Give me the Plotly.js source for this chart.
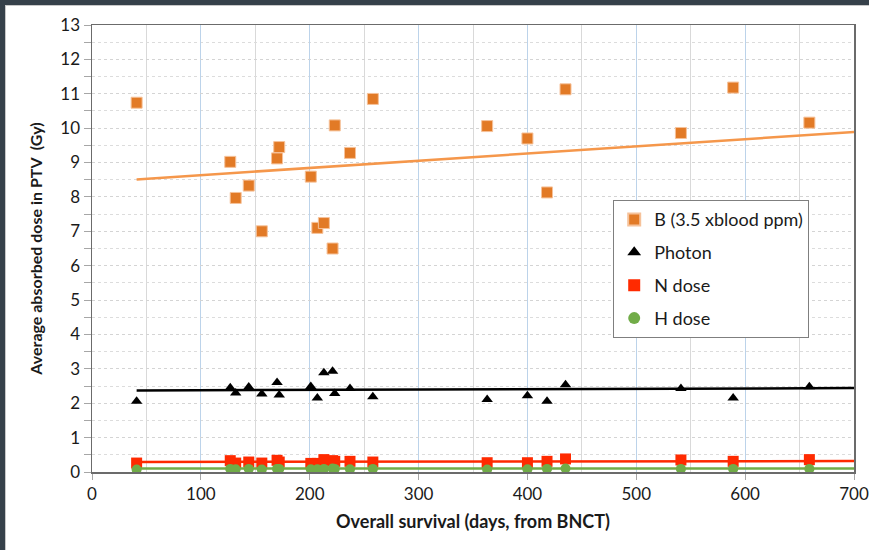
<!DOCTYPE html>
<html>
<head>
<meta charset="utf-8">
<script src="https://cdn.plot.ly/plotly-3.0.1.min.js"></script>
<style>
  html, body { margin: 0; padding: 0; background: #36414a; width: 869px; height: 550px; overflow: hidden; }
  #chart { position: absolute; left: 5px; top: 5px; width: 864px; height: 545px; background: #fff; border-top: 1px solid #c8c8c8; border-left: 1px solid #c8c8c8; box-sizing: border-box; }
</style>
</head>
<body>
<div id="chart"></div>
<script>
// Overall survival (days) per patient
const survivalDays = [41, 127, 132, 144, 156, 170, 172, 201, 207, 213, 221, 223, 237, 258, 363, 400, 418, 435, 541, 589, 659];
// Average absorbed dose in PTV (Gy)
const bDose      = [10.74, 9.02, 7.97, 8.33, 7.00, 9.12, 9.45, 8.59, 7.10, 7.24, 6.50, 10.08, 9.28, 10.85, 10.06, 9.70, 8.13, 11.13, 9.86, 11.18, 10.16];
const photonDose = [2.06, 2.45, 2.30, 2.47, 2.27, 2.60, 2.24, 2.49, 2.15, 2.89, 2.93, 2.28, 2.43, 2.19, 2.11, 2.22, 2.06, 2.54, 2.43, 2.15, 2.48];
const nDose      = [0.26, 0.33, 0.26, 0.29, 0.26, 0.34, 0.29, 0.25, 0.25, 0.36, 0.33, 0.31, 0.31, 0.29, 0.27, 0.27, 0.31, 0.38, 0.35, 0.31, 0.36];
const hDose      = [0.07, 0.09, 0.08, 0.09, 0.07, 0.09, 0.09, 0.08, 0.08, 0.09, 0.10, 0.09, 0.08, 0.09, 0.07, 0.08, 0.09, 0.10, 0.09, 0.09, 0.09];
// Linear trend lines
const trendX      = [41, 700];
const trendB      = [8.51, 9.89];
const trendPhoton = [2.37, 2.44];
const trendN      = [0.29, 0.32];
const trendH      = [0.10, 0.10];

const seriesNames = ['B (3.5 xblood ppm)', 'Photon', 'N dose', 'H dose'];

const FONT = 'Lato, "Open Sans", sans-serif';

const traces = [
  { x: survivalDays, y: bDose, name: seriesNames[0], mode: 'markers', type: 'scatter', legendgroup: 'b',
    marker: { symbol: 'square', size: 11, color: '#E27A26', line: { color: '#F6C29A', width: 1 } } },
  { x: trendX, y: trendB, mode: 'lines', type: 'scatter', showlegend: false, hoverinfo: 'skip',
    line: { color: '#F5974B', width: 2.5 } },
  { x: survivalDays, y: photonDose, name: seriesNames[1], mode: 'markers', type: 'scatter', legendgroup: 'p',
    marker: { symbol: 'triangle-up', size: 10, color: '#000000' } },
  { x: trendX, y: trendPhoton, mode: 'lines', type: 'scatter', showlegend: false, hoverinfo: 'skip',
    line: { color: '#000000', width: 2.5 } },
  { x: survivalDays, y: nDose, name: seriesNames[2], mode: 'markers', type: 'scatter', legendgroup: 'n',
    marker: { symbol: 'square', size: 11, color: '#FF2A00' } },
  { x: trendX, y: trendN, mode: 'lines', type: 'scatter', showlegend: false, hoverinfo: 'skip',
    line: { color: '#FF2A00', width: 2.5 } },
  { x: survivalDays, y: hDose, name: seriesNames[3], mode: 'markers', type: 'scatter', legendgroup: 'h',
    marker: { symbol: 'circle', size: 10, color: '#71AC48' } },
  { x: trendX, y: trendH, mode: 'lines', type: 'scatter', showlegend: false, hoverinfo: 'skip',
    line: { color: '#71AC48', width: 2.5 } }
];

const layout = {
  width: 864, height: 545,
  margin: { l: 85.7, r: 15.7, t: 19, b: 79.3, pad: 0 },
  paper_bgcolor: '#ffffff', plot_bgcolor: '#ffffff',
  font: { family: FONT, size: 17, color: '#1a1a1a' },
  showlegend: true,
  legend: {
    x: 0.684, y: 0.608, xanchor: 'left', yanchor: 'top',
    bgcolor: '#ffffff', bordercolor: '#7f7f7f', borderwidth: 1,
    font: { family: FONT, size: 18, color: '#1a1a1a' },
    traceorder: 'grouped', tracegroupgap: 6.5, itemsizing: 'constant'
  },
  xaxis: {
    range: [0, 700], dtick: 100, tick0: 0,
    showgrid: true, gridcolor: '#bcd3ea', gridwidth: 1,
    minor: { dtick: 50, showgrid: true, gridcolor: '#d9d9d9', gridwidth: 1, ticks: '' },
    ticks: 'outside', ticklen: 6, tickcolor: '#a6a6a6',
    showline: true, linecolor: '#6b6b6b', linewidth: 1.5, mirror: true,
    zeroline: false,
    tickfont: { family: FONT, size: 17, color: '#1a1a1a' },
    title: { text: 'Overall survival (days, from BNCT)', font: { family: FONT, size: 18, color: '#1a1a1a', weight: 'bold' }, standoff: 12 }
  },
  yaxis: {
    range: [0, 13], dtick: 1, tick0: 0,
    showgrid: true, gridcolor: '#d4d4d4', gridwidth: 1, griddash: 'dot',
    minor: { dtick: 0.5, showgrid: true, gridcolor: '#dcdcdc', gridwidth: 1, ticks: 'outside', ticklen: 7, tickcolor: '#a6a6a6' },
    ticks: 'outside', ticklen: 7, tickcolor: '#a6a6a6',
    showline: true, linecolor: '#6b6b6b', linewidth: 1.5, mirror: true,
    zeroline: false,
    tickfont: { family: FONT, size: 17, color: '#1a1a1a' },
    title: { text: 'Average absorbed dose in PTV  (Gy)', font: { family: FONT, size: 16, color: '#1a1a1a', weight: 'bold' }, standoff: 14 }
  }
};

Plotly.newPlot('chart', traces, layout, { displayModeBar: false, staticPlot: true });
</script>
</body>
</html>
